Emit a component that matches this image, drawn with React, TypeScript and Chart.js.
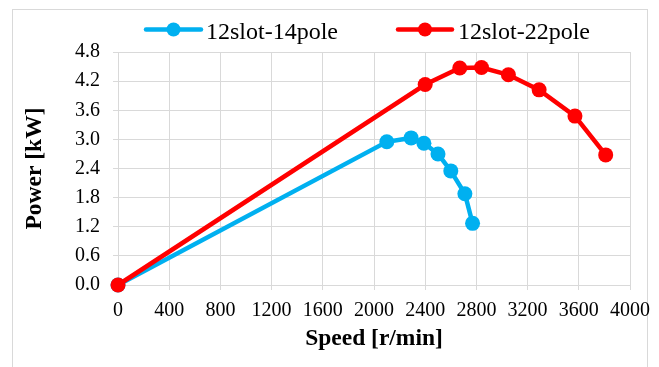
import React, { useEffect, useRef } from "react";
import { Chart, registerables } from "chart.js";

Chart.register(...registerables);

const seriesNames = ["12slot-14pole", "12slot-22pole"];
const speed14 = [0, 2100, 2290, 2390, 2500, 2600, 2710, 2770];
const power14 = [0, 2.95, 3.03, 2.92, 2.7, 2.35, 1.88, 1.27];
const speed22 = [0, 2400, 2670, 2840, 3050, 3290, 3570, 3810];
const power22 = [0, 4.13, 4.47, 4.48, 4.33, 4.02, 3.48, 2.68];
const xTitle = "Speed [r/min]";
const yTitle = "Power [kW]";
const colors = ["#00b0f0", "#ff0000"];

const FONT = "'Liberation Serif', 'Times New Roman', serif";

const legendPlugin = {
  id: "customLegend",
  beforeDraw(chart: any) {
    const ctx = chart.ctx;
    ctx.save();
    ctx.strokeStyle = "#d9d9d9";
    ctx.lineWidth = 1;
    ctx.strokeRect(12.5, 9.5, 635, 400);
    ctx.restore();
  },
  afterDraw(chart: any) {
    const ctx = chart.ctx;
    const items = [
      { x0: 146, x1: 201, cx: 173.5, tx: 206 },
      { x0: 398, x1: 452, cx: 425, tx: 458 },
    ];
    const y = 29.5;
    ctx.save();
    items.forEach((it, i) => {
      ctx.strokeStyle = colors[i];
      ctx.lineWidth = 4.5;
      ctx.lineCap = "round";
      ctx.beginPath();
      ctx.moveTo(it.x0, y);
      ctx.lineTo(it.x1, y);
      ctx.stroke();
      ctx.fillStyle = colors[i];
      ctx.beginPath();
      ctx.arc(it.cx, y, 7, 0, Math.PI * 2);
      ctx.fill();
      ctx.fillStyle = "#000";
      ctx.font = `24px ${FONT}`;
      ctx.textBaseline = "alphabetic";
      ctx.textAlign = "left";
      ctx.fillText(seriesNames[i], it.tx, 39);
    });
    ctx.restore();
  },
};

export default function App() {
  const ref = useRef<HTMLCanvasElement | null>(null);
  useEffect(() => {
    let chart: any = null;
    let cancelled = false;
    const mk = (xs: number[], ys: number[]) => xs.map((x, i) => ({ x, y: ys[i] }));
    const build = () => {
      if (cancelled || !ref.current) return;
      chart = new Chart(ref.current, {
        type: "line",
        data: {
          datasets: [
            {
              label: seriesNames[0],
              data: mk(speed14, power14),
              borderColor: colors[0],
              backgroundColor: colors[0],
              borderWidth: 4.5,
              pointRadius: 7.5,
              pointBorderWidth: 0,
              pointBackgroundColor: colors[0],
              tension: 0,
              clip: false,
              order: 2,
            },
            {
              label: seriesNames[1],
              data: mk(speed22, power22),
              borderColor: colors[1],
              backgroundColor: colors[1],
              borderWidth: 4.5,
              pointRadius: 7.5,
              pointBorderWidth: 0,
              pointBackgroundColor: colors[1],
              tension: 0,
              clip: false,
              order: 1,
            },
          ],
        },
        options: {
          animation: false,
          responsive: false,
          layout: { padding: { left: 0, top: 52, right: 23, bottom: 0 } },
          plugins: { legend: { display: false }, tooltip: { enabled: false } },
          scales: {
            x: {
              type: "linear",
              min: 0,
              max: 4000,
              afterFit: (s: any) => {
                s.height = 82;
              },
              ticks: {
                stepSize: 400,
                color: "#000",
                font: { family: FONT, size: 20 },
                padding: 9,
                maxRotation: 0,
                autoSkip: false,
                callback: (v: any) => String(v),
              },
              grid: { color: "#d9d9d9", lineWidth: 1, tickLength: 5, drawTicks: true },
              border: { color: "#d9d9d9" },
              title: {
                display: true,
                text: xTitle,
                color: "#000",
                font: { family: FONT, size: 23.5, weight: "bold" },
                padding: { top: 0, bottom: 14 },
              },
            },
            y: {
              min: 0,
              max: 4.8,
              afterFit: (s: any) => {
                s.width = 118;
              },
              ticks: {
                stepSize: 0.6,
                color: "#000",
                font: { family: FONT, size: 20 },
                padding: 13,
                callback: (v: any) => Number(v).toFixed(1),
              },
              grid: { color: "#d9d9d9", lineWidth: 1, tickLength: 5 },
              border: { color: "#d9d9d9" },
              title: {
                display: true,
                text: yTitle,
                color: "#000",
                font: { family: FONT, size: 23.5, weight: "bold" },
                padding: { top: 21, bottom: 0 },
              },
            },
          },
        },
        plugins: [legendPlugin],
      });
    };
    const fonts: any = (document as any).fonts;
    if (fonts && fonts.load) {
      Promise.all([
        fonts.load('20px "Liberation Serif"'),
        fonts.load('bold 20px "Liberation Serif"'),
      ])
        .catch(() => null)
        .then(build);
    } else {
      build();
    }
    return () => {
      cancelled = true;
      if (chart) chart.destroy();
    };
  }, []);
  return (
    <div style={{ position: "absolute", left: 0, top: 0, width: 659, height: 367, background: "#fff" }}>
      <canvas ref={ref} width={659} height={367} style={{ width: 659, height: 367, display: "block" }} />
    </div>
  );
}
